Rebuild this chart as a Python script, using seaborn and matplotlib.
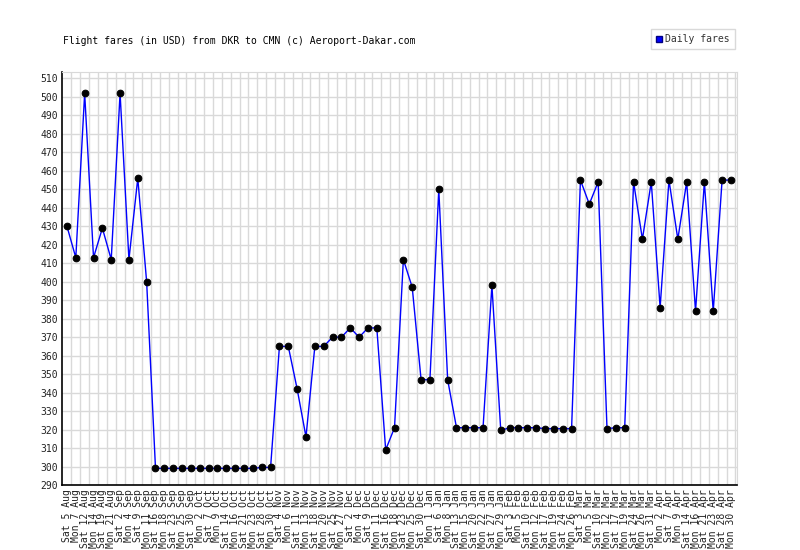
import numpy as np
import pandas as pd
import matplotlib
matplotlib.use("Agg")
import matplotlib.pyplot as plt
from matplotlib.lines import Line2D
import seaborn as sns

dates = [
    "Sat 5 Aug", "Mon 7 Aug", "Sat 12 Aug", "Mon 14 Aug", "Sat 19 Aug", "Mon 21 Aug",
    "Sat 2 Sep", "Mon 4 Sep", "Sat 9 Sep", "Mon 11 Sep", "Sat 16 Sep", "Mon 18 Sep",
    "Sat 23 Sep", "Mon 25 Sep", "Sat 30 Sep",
    "Mon 2 Oct", "Sat 7 Oct", "Mon 9 Oct", "Sat 14 Oct", "Mon 16 Oct", "Sat 21 Oct",
    "Mon 23 Oct", "Sat 28 Oct", "Mon 30 Oct",
    "Sat 4 Nov", "Mon 6 Nov", "Sat 11 Nov", "Mon 13 Nov", "Sat 18 Nov", "Mon 20 Nov",
    "Sat 25 Nov", "Mon 27 Nov",
    "Sat 2 Dec", "Mon 4 Dec", "Sat 9 Dec", "Mon 11 Dec", "Sat 16 Dec", "Mon 18 Dec",
    "Sat 23 Dec", "Mon 25 Dec", "Sat 30 Dec",
    "Mon 1 Jan", "Sat 6 Jan", "Mon 8 Jan", "Sat 13 Jan", "Mon 15 Jan", "Sat 20 Jan",
    "Mon 22 Jan", "Sat 27 Jan", "Mon 29 Jan",
    "Sat 3 Feb", "Mon 5 Feb", "Sat 10 Feb", "Mon 12 Feb", "Sat 17 Feb", "Mon 19 Feb",
    "Sat 24 Feb", "Mon 26 Feb",
    "Sat 3 Mar", "Mon 5 Mar", "Sat 10 Mar", "Mon 12 Mar", "Sat 17 Mar", "Mon 19 Mar",
    "Sat 24 Mar", "Mon 26 Mar", "Sat 31 Mar",
    "Mon 2 Apr", "Sat 7 Apr", "Mon 9 Apr", "Sat 14 Apr", "Mon 16 Apr", "Sat 21 Apr",
    "Mon 23 Apr", "Sat 28 Apr", "Mon 30 Apr",
]

fares = [
    430, 413, 502, 413, 429, 412, 502, 412, 456, 400,
    299, 299, 299, 299, 299, 299, 299, 299, 299, 299,
    299, 299, 299.5, 299.5, 365, 365, 342, 316, 365, 365,
    370, 370, 375, 370, 375, 375, 309, 321, 412, 397,
    347, 347, 450, 347, 321, 321, 321, 321, 398, 319.5,
    321, 321, 321, 321, 320.5, 320.5, 320.5, 320.5, 455, 442,
    454, 320.5, 321, 321, 454, 423, 454, 386, 455, 423,
    454, 384, 454, 384, 455, 455,
]

y_ticks = list(range(290, 511, 10))

df = pd.DataFrame({"pos": np.arange(len(dates)), "fare": fares})

sns.set_style("white")
plt.rcParams["font.family"] = ["DejaVu Sans Mono", "DejaVu Sans"]

fig = plt.figure(figsize=(8, 5.5), dpi=100)
ax = fig.add_axes([0.0775, 0.1182, 0.8437, 0.7509])

grid_c = "#d9d9d9"
for v in y_ticks:
    ax.axhline(v, color=grid_c, lw=1, zorder=0)
for i in range(len(dates)):
    ax.axvline(i + 0.5, color=grid_c, lw=1, zorder=0)

sns.lineplot(data=df, x="pos", y="fare", ax=ax, color="#0000ff", lw=1,
             marker="o", markersize=4.8, markerfacecolor="black",
             markeredgecolor="black", zorder=3)

ax.set_xlim(-0.56, len(dates) - 1 + 0.68)
ax.set_ylim(290, 513.5)
ax.set_yticks(y_ticks)
ax.set_yticklabels([str(v) for v in y_ticks], fontsize=7, color="#222222")
ax.set_xticks(np.arange(len(dates)))
ax.set_xticklabels(dates, rotation=90, fontsize=7, color="#222222")
ax.tick_params(axis="both", length=0, pad=3)
ax.set_xlabel("")
ax.set_ylabel("")

ax.spines["left"].set_color("black")
ax.spines["bottom"].set_color("black")
ax.spines["left"].set_linewidth(1.2)
ax.spines["bottom"].set_linewidth(1.2)
ax.spines["top"].set_color(grid_c)
ax.spines["right"].set_color(grid_c)

fig.text(0.079, 0.925, "Flight fares (in USD) from DKR to CMN (c) Aeroport-Dakar.com",
         fontsize=7, ha="left", va="center", color="black")

handle = Line2D([], [], marker="s", color="#0000ff", markeredgecolor="#000080",
                linestyle="none", markersize=5)
leg = fig.legend([handle], ["Daily fares"], loc="upper right",
                 bbox_to_anchor=(0.922, 0.952), fontsize=7, frameon=True,
                 fancybox=False, handletextpad=0.2, handlelength=0.8,
                 borderpad=0.5, borderaxespad=0.3, labelcolor="#333333")
leg.get_frame().set_edgecolor("#d0d0d0")
leg.get_frame().set_linewidth(1)

fig.savefig("out.png", dpi=100)
